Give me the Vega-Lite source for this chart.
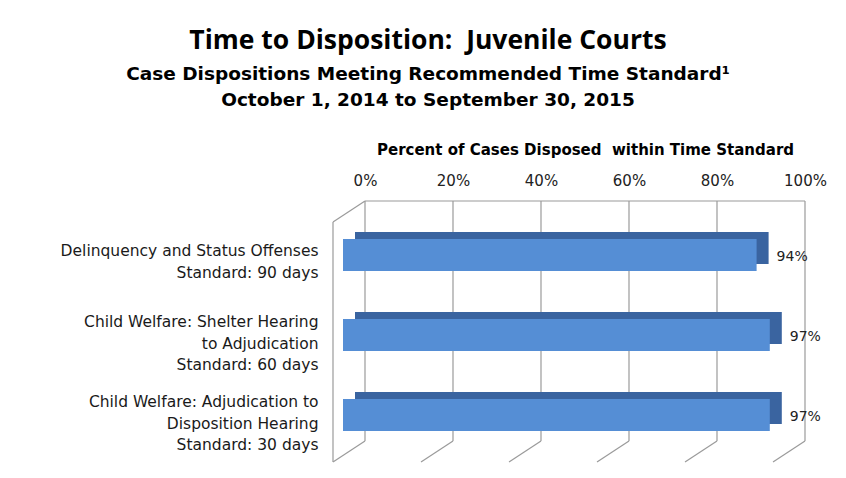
{
  "$schema": "https://vega.github.io/schema/vega-lite/v6.json",
  "width": 440,
  "height": 240,
  "autosize": {"type": "none"},
  "padding": {"left": 343, "top": 215, "right": 63, "bottom": 23},
  "background": "white",
  "config": {"view": {"stroke": null}},
  "title": {
    "text": "Time to Disposition:\u00a0 Juvenile Courts",
    "subtitle": ["Case Dispositions Meeting Recommended Time Standard¹", "October 1, 2014 to September 30, 2015"],
    "anchor": "middle",
    "frame": "group",
    "dx": -135,
    "offset": 33,
    "font": "Open Sans",
    "fontSize": 26.5,
    "fontWeight": "bold",
    "color": "#000000",
    "subtitleFont": "DejaVu Sans",
    "subtitleFontSize": 18.5,
    "subtitleFontWeight": "bold",
    "subtitleColor": "#000000",
    "subtitleLineHeight": 26,
    "subtitlePadding": 10
  },
  "layer": [
    {
      "data": {"values": [{"v": 0}, {"v": 0.2}, {"v": 0.4}, {"v": 0.6}, {"v": 0.8}, {"v": 1}]},
      "layer": [
        {
          "mark": {"type": "rule", "color": "#9a9a9a", "strokeWidth": 1.2, "xOffset": 22, "yOffset": -14, "y2Offset": -14},
          "encoding": {
            "x": {"field": "v", "type": "quantitative", "scale": {"domain": [0, 1]},
              "axis": {
                "orient": "top", "format": ".0%", "values": [0, 0.2, 0.4, 0.6, 0.8, 1],
                "ticks": false, "domain": false, "grid": false, "labelFlush": false,
                "labelOffset": 22, "labelPadding": 27,
                "labelFont": "DejaVu Sans", "labelFontSize": 15, "labelColor": "#222222",
                "title": "Percent of Cases Disposed\u00a0 within Time Standard",
                "titleFont": "DejaVu Sans", "titleFontSize": 15, "titleFontWeight": "bold",
                "titleColor": "#000000", "titlePadding": 16, "titleX": 242
              }},
            "y": {"datum": 0, "type": "quantitative", "scale": {"domain": [0, 1]}, "axis": null},
            "y2": {"datum": 1}
          }
        },
        {
          "mark": {"type": "rule", "color": "#9a9a9a", "strokeWidth": 1.2, "xOffset": -10, "x2Offset": 22, "yOffset": 7, "y2Offset": -14},
          "encoding": {
            "x": {"field": "v", "type": "quantitative", "title": "Percent of Cases Disposed\u00a0 within Time Standard"},
            "x2": {"field": "v"},
            "y": {"datum": 0, "type": "quantitative", "axis": null},
            "y2": {"datum": 0}
          }
        },
        {
          "transform": [{"filter": "datum.v == 0"}],
          "mark": {"type": "rule", "color": "#9a9a9a", "strokeWidth": 1.2, "xOffset": -10, "yOffset": 7, "y2Offset": 7},
          "encoding": {
            "x": {"field": "v", "type": "quantitative", "title": "Percent of Cases Disposed\u00a0 within Time Standard"},
            "y": {"datum": 0, "type": "quantitative", "axis": null},
            "y2": {"datum": 1}
          }
        },
        {
          "transform": [{"filter": "datum.v == 0"}],
          "mark": {"type": "rule", "color": "#9a9a9a", "strokeWidth": 1.2, "xOffset": -10, "x2Offset": 22, "yOffset": 7, "y2Offset": -14},
          "encoding": {
            "x": {"field": "v", "type": "quantitative", "title": "Percent of Cases Disposed\u00a0 within Time Standard"},
            "x2": {"field": "v"},
            "y": {"datum": 1, "type": "quantitative", "axis": null},
            "y2": {"datum": 1}
          }
        },
        {
          "transform": [{"filter": "datum.v == 0"}],
          "mark": {"type": "rule", "color": "#9a9a9a", "strokeWidth": 1.2, "xOffset": 22, "x2Offset": 22, "yOffset": -14},
          "encoding": {
            "x": {"datum": 0, "type": "quantitative", "title": "Percent of Cases Disposed\u00a0 within Time Standard"},
            "x2": {"datum": 1},
            "y": {"datum": 1, "type": "quantitative", "axis": null}
          }
        }
      ]
    },
    {
      "data": {"values": [
        {"cat": "Delinquency and Status Offenses|Standard: 90 days", "pct": 0.94},
        {"cat": "Child Welfare: Shelter Hearing|to Adjudication|Standard: 60 days", "pct": 0.97},
        {"cat": "Child Welfare: Adjudication to|Disposition Hearing|Standard: 30 days", "pct": 0.97}
      ]},
      "encoding": {
        "y": {
          "field": "cat", "type": "nominal", "sort": null,
          "scale": {"paddingInner": 0.6, "paddingOuter": 0.3},
          "axis": {
            "orient": "left", "title": null, "ticks": false, "domain": false,
            "labelExpr": "split(datum.label, '|')",
            "labelLineHeight": 21.5, "labelPadding": 25,
            "labelOffset": {"condition": {"test": "length(split(datum.label, '|')) == 3", "value": -13}, "value": -4},
            "labelFont": "DejaVu Sans", "labelFontSize": 15.5, "labelColor": "#1a1a1a",
            "labelAlign": "right", "labelBaseline": "middle", "labelLimit": 400
          }
        }
      },
      "layer": [
        {
          "mark": {"type": "bar", "color": "#3A64A0", "xOffset": 12, "x2Offset": 12, "yOffset": -7, "y2Offset": -7},
          "encoding": {
            "x": {"field": "pct", "type": "quantitative", "title": "Percent of Cases Disposed\u00a0 within Time Standard"}
          }
        },
        {
          "mark": {"type": "bar", "color": "#558ED5"},
          "encoding": {"x": {"field": "pct", "type": "quantitative", "title": "Percent of Cases Disposed\u00a0 within Time Standard"}}
        },
        {
          "mark": {"type": "text", "align": "left", "baseline": "middle", "dx": 20, "dy": 2, "font": "DejaVu Sans", "fontSize": 14, "color": "#222222"},
          "encoding": {
            "x": {"field": "pct", "type": "quantitative", "title": "Percent of Cases Disposed\u00a0 within Time Standard"},
            "text": {"field": "pct", "type": "quantitative", "format": ".0%"}
          }
        }
      ]
    }
  ],
  "resolve": {"scale": {"y": "independent"}}
}
